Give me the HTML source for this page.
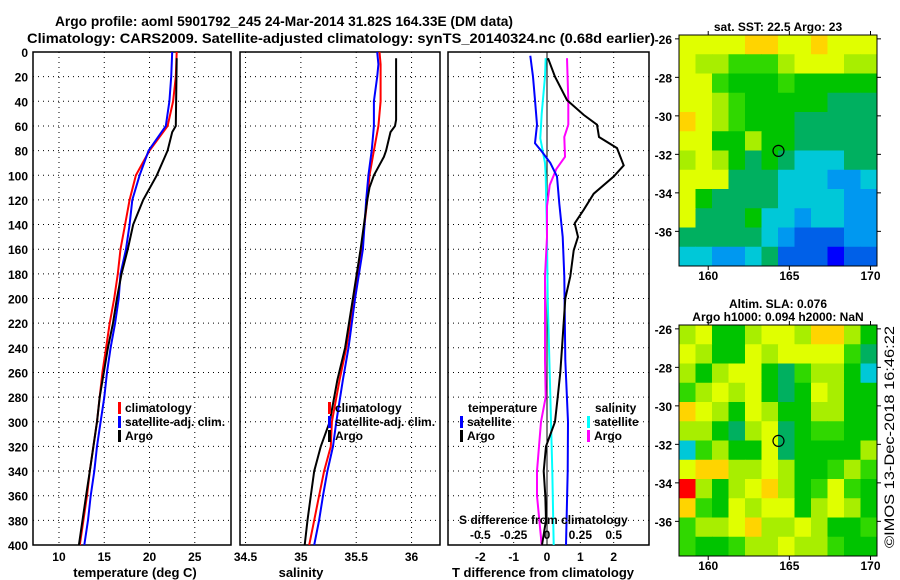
<!DOCTYPE html>
<html><head><meta charset="utf-8"><style>
body{margin:0;background:#fff}
svg{display:block;font-family:"Liberation Sans",Arial,sans-serif;font-weight:bold}
</style></head><body>
<svg id="c" width="900" height="580" viewBox="0 0 900 580">
<text x="55" y="26" font-size="14" textLength="458" lengthAdjust="spacingAndGlyphs">Argo profile: aoml 5901792_245 24-Mar-2014 31.82S 164.33E (DM data)</text>
<text x="27" y="43" font-size="14" textLength="628" lengthAdjust="spacingAndGlyphs">Climatology: CARS2009. Satellite-adjusted climatology: synTS_20140324.nc (0.68d earlier)</text>
<g id="g"></g>
</svg>
<script>
// ---- data ----
const depthTicks=[0,20,40,60,80,100,120,140,160,180,200,220,240,260,280,300,320,340,360,380,400];
const tTicks=[10,15,20,25];
const sTicks=[34.5,35,35.5,36];
const dTicks=[-2,-1,0,1,2];
const dsTicks=[-0.5,-0.25,0,0.25,0.5];
const tClimDepth=[0,20,40,60,80,100,120,140,160,180,200,220,240,260,280,300,320,340,360,380,400];
const tClim=[23.0,22.9,22.6,22.0,20.0,18.5,17.8,17.3,16.8,16.5,16.1,15.6,15.2,14.8,14.5,14.2,13.8,13.4,13.1,12.7,12.3];
const tSat=[22.5,22.4,22.2,21.8,19.9,18.9,18.1,17.8,17.4,16.8,16.6,16.2,15.7,15.3,15.0,14.6,14.2,13.9,13.5,13.2,12.8];
const tArgoDepth=[5,60,65,80,100,120,140,160,180,200,220,240,260,280,300,320,340,360,380,400];
const tArgo=[23.0,22.9,22.5,22.0,20.8,19.3,18.2,17.6,16.9,16.4,15.97,15.4,14.95,14.5,14.2,13.8,13.4,13.0,12.6,12.2];
const sClimDepth=[0,10,40,60,80,100,120,160,200,240,266,300,320,340,360,380,400];
const sClim=[35.71,35.72,35.72,35.70,35.66,35.62,35.60,35.55,35.48,35.41,35.35,35.28,35.27,35.21,35.165,35.12,35.075];
const sSatDepth=[0,10,20,40,60,80,100,120,160,200,240,266,300,320,340,360,380,400];
const sSat=[35.69,35.70,35.69,35.66,35.66,35.64,35.61,35.59,35.56,35.49,35.43,35.38,35.32,35.29,35.24,35.2,35.165,35.12];
const sArgoDepth=[5,55,60,65,80,85,100,110,120,160,200,240,266,300,320,340,360,380,400];
const sArgo=[35.86,35.86,35.85,35.81,35.77,35.75,35.66,35.62,35.60,35.54,35.47,35.40,35.33,35.26,35.18,35.12,35.09,35.06,35.035];
const dTArgoDepth=[5,20,39,51,59,69,78,92,101,115,128,139,150,161,182,200,240,260,280,300,320,340,360,380,400];
const dTArgo=[0.03,0.24,0.6,1.1,1.5,1.56,2.1,2.3,2.0,1.4,1.1,0.83,0.93,0.8,0.7,0.55,0.45,0.4,0.32,0.24,-0.03,-0.1,-0.05,-0.03,-0.15];
const dTSatDepth=[3,20,39,59,74,81,90,101,123,150,182,250,300,340,400];
const dTSat=[-0.5,-0.42,-0.36,-0.3,-0.36,-0.15,0.1,0.3,0.37,0.47,0.52,0.55,0.63,0.62,0.57];
const dSSatDepth=[5,20,50,70,90,100,150,200,300,340,400];
const dSSat=[-0.01,-0.015,-0.04,-0.05,-0.015,-0.01,0,0.005,0.03,0.04,0.05];
const dSArgoDepth=[5,39,59,69,85,95,108,125,150,182,250,280,300,340,360,400];
const dSArgo=[0.15,0.16,0.16,0.13,0.135,0.07,0.02,0,0,-0.015,-0.015,-0.01,-0.045,-0.075,-0.075,-0.04];
const latTicks=[-26,-28,-30,-32,-34,-36];
const lonTicks=[160,165,170];
const sstGrid=[
[8,8,8,8,9,9,8,8,9,8,8,8],[8,7,7,6,6,6,7,8,8,8,7,7],[8,8,6,5,5,5,6,5,5,5,5,5],[8,8,7,6,5,5,5,5,5,4,4,4],
[9,8,7,6,5,5,5,4,4,4,4,4],[8,8,5,5,7,5,5,4,4,4,4,4],[7,8,7,5,4,5,4,3,3,3,4,4],[8,8,8,4,4,4,3,3,3,2,2,3],
[8,5,4,4,4,4,3,3,3,3,2,2],[8,4,4,4,5,3,3,2,3,3,2,2],[4,4,4,4,4,3,2,1,1,1,2,2],[3,3,2,2,3,4,1,1,1,0,1,1]];
const slaGrid=[
[7,8,5,5,7,8,8,7,9,9,7,5],[8,7,5,5,8,7,8,8,8,8,6,4],[7,5,7,8,8,5,4,6,7,7,5,3],[6,7,8,7,8,5,4,5,8,7,5,5],
[9,8,7,5,8,7,5,5,7,7,5,5],[7,7,5,4,7,8,4,5,6,6,5,5],[3,6,7,5,5,8,4,5,5,5,5,7],[8,9,9,7,7,8,7,5,5,6,7,6],
[10,7,5,7,8,9,7,5,6,8,6,5],[9,6,5,8,7,8,8,5,7,8,7,5],[6,7,7,8,9,7,7,8,7,5,5,6],[6,5,5,6,7,7,8,7,7,6,5,5]];
const argoLon=164.33, argoLat=-31.82;
// ---- render ----
const NS="http://www.w3.org/2000/svg";const G=document.getElementById('g');
function mk(t,a,p){const e=document.createElementNS(NS,t);for(const k in a)e.setAttribute(k,a[k]);(p||G).appendChild(e);return e;}
const Y0=52,Y1=545;const y=d=>Y0+d/400*(Y1-Y0);
const panels=[
 {x0:59-26,x1:231,lo:7.13,hi:29.0,ticks:tTicks,title:'temperature (deg C)',tx:135,name:'temperature'},
 {x0:240,x1:440,lo:34.45,hi:36.257,ticks:sTicks,title:'salinity',tx:301,name:'salinity'},
 {x0:448,x1:649,lo:-2.97,hi:3.06,ticks:dTicks,title:'T difference from climatology',tx:543,name:'tdiff'}];
panels.forEach((p,i)=>{
 p.x=v=>p.x0+(v-p.lo)/(p.hi-p.lo)*(p.x1-p.x0);
 depthTicks.forEach(d=>{if(d>0&&d<400){const l=mk('line',{x1:p.x0,x2:p.x1,y1:y(d),y2:y(d),stroke:'#000','stroke-width':1,'stroke-dasharray':'1 4'});
 }});
 p.ticks.forEach(v=>{const X=p.x(v);
  if(!(i==2&&v==0)){const l=mk('line',{x1:X,x2:X,y1:Y0,y2:Y1,stroke:'#000','stroke-dasharray':'1 4'});}
  const t=mk('text',{x:X,y:561,'font-size':12,'text-anchor':'middle'});t.textContent=String(v);
  });
 const r=mk('rect',{x:p.x0,y:Y0,width:p.x1-p.x0,height:Y1-Y0,fill:'none',stroke:'#000','stroke-width':1.5});
 
 const tt=mk('text',{x:p.tx,y:577,'font-size':13,'text-anchor':'middle'});tt.textContent=p.title;
 
});
depthTicks.forEach(d=>{const t=mk('text',{x:28,y:y(d)+5,'font-size':12,'text-anchor':'end'});t.textContent=d;
 });
const P3=panels[2];
const zl=mk('line',{x1:P3.x(0),x2:P3.x(0),y1:Y0,y2:Y1,stroke:'#000','stroke-width':1});

function series(p,ds,vs,col,name,w){const pts=ds.map((d,k)=>p.x(vs[k]).toFixed(1)+','+y(d).toFixed(1)).join(' ');
 const l=mk('polyline',{points:pts,fill:'none',stroke:col,'stroke-width':w||2});
 }
series(panels[0],tClimDepth,tClim,'#f00','temp-climatology-line');
series(panels[0],tClimDepth,tSat,'#00f','temp-satellite-line');
series(panels[0],tArgoDepth,tArgo,'#000','temp-argo-line');
series(panels[1],sClimDepth,sClim,'#f00','sal-climatology-line');
series(panels[1],sSatDepth,sSat,'#00f','sal-satellite-line');
series(panels[1],sArgoDepth,sArgo,'#000','sal-argo-line');
const sx=v=>v*4;
series(P3,dSSatDepth,dSSat.map(sx),'#0ff','sdiff-satellite-line');
series(P3,dSArgoDepth,dSArgo.map(sx),'#f0f','sdiff-argo-line');
series(P3,dTSatDepth,dTSat,'#00f','tdiff-satellite-line');
series(P3,dTArgoDepth,dTArgo,'#000','tdiff-argo-line');
// legends
function leg(x,yy,col,txt,name){if(col){const b=mk('rect',{x:x,y:yy-10,width:3,height:12,fill:col});}
 const t=mk('text',{x:x+(col?7:0),y:yy,'font-size':12});t.textContent=txt;}
leg(118,412,'#f00','climatology','legend-climatology');leg(118,426,'#00f','satellite-adj. clim.','legend-satellite');leg(118,440,'#000','Argo','legend-argo');
leg(328,412,'#f00','climatology','legend2-climatology');leg(328,426,'#00f','satellite-adj. clim.','legend2-satellite');leg(328,440,'#000','Argo','legend2-argo');
leg(468,412,null,'temperature','legend-temperature-header');leg(460,426,'#00f','satellite','legend-t-satellite');leg(460,440,'#000','Argo','legend-t-argo');
leg(595,412,null,'salinity','legend-salinity-header');leg(587,426,'#0ff','satellite','legend-s-satellite');leg(587,440,'#f0f','Argo','legend-s-argo');
const st=mk('text',{x:459,y:524,'font-size':12});st.textContent='S difference from climatology';
dsTicks.forEach(v=>{const t=mk('text',{x:P3.x(sx(v)),y:539,'font-size':12,'text-anchor':'middle'});t.textContent=String(v);
 });
// maps
const cmap=['#0000ff','#0060e8','#0098f0','#00c8d8','#00b060','#00c400','#30d800','#a8ee00','#e0ff00','#ffd400','#ff0000'];
function map(top,grid,name,title){
 const L=679,R=877,T=top,B=top+231,lon0=158.2,lon1=170.4,lat0=-25.8,lat1=-37.8;
 const mx=v=>L+(v-lon0)/(lon1-lon0)*(R-L),my=v=>T+(v-lat0)/(lat1-lat0)*(B-T);
 const rows=grid.length,cols=grid[0].length,cw=(R-L)/cols,ch=(B-T)/rows;
 grid.forEach((row,ri)=>row.forEach((v,ci)=>{const c=mk('rect',{x:L+ci*cw,y:T+ri*ch,width:cw+0.5,height:ch+0.5,fill:cmap[v]});
  }));
 const f=mk('rect',{x:L,y:T,width:R-L,height:B-T,fill:'none',stroke:'#000'});
 latTicks.forEach(v=>{const Y=my(v);mk('line',{x1:L-4,x2:L,y1:Y,y2:Y,stroke:'#000'});mk('line',{x1:R,x2:R+4,y1:Y,y2:Y,stroke:'#000'});
  const t=mk('text',{x:672,y:Y+5,'font-size':12,'text-anchor':'end'});t.textContent=v;});
 lonTicks.forEach(v=>{const X=mx(v);mk('line',{x1:X,x2:X,y1:T-4,y2:T,stroke:'#000'});mk('line',{x1:X,x2:X,y1:B,y2:B+4,stroke:'#000'});
  const t=mk('text',{x:X,y:B+14,'font-size':12,'text-anchor':'middle'});t.textContent=v;});
 const c=mk('circle',{cx:mx(argoLon),cy:my(argoLat),r:5.5,fill:'none',stroke:'#000','stroke-width':1.2});
 
 title.forEach((s,k)=>{const t=mk('text',{x:778,y:top-(title.length-k)*13+9,'font-size':12,'text-anchor':'middle'});t.textContent=s;
  });
}
map(35,sstGrid,'sst-map',['sat. SST: 22.5 Argo: 23']);
map(325,slaGrid,'sla-map',['Altim. SLA: 0.076','Argo h1000: 0.094 h2000: NaN']);
const cp=mk('text',{x:0,y:0,'font-size':14,'font-weight':'normal',textLength:222,lengthAdjust:'spacingAndGlyphs',transform:'translate(894,548) rotate(-90)'});
cp.textContent='©IMOS 13-Dec-2018 16:46:22';

</script>
</body></html>
